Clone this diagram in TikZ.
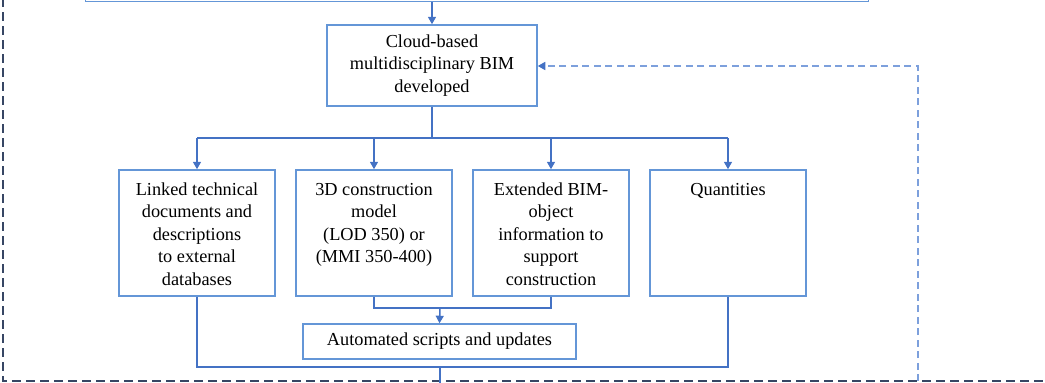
\documentclass[tikz,border=0pt]{standalone}
\usepackage{fontspec}
\setmainfont{Liberation Serif}
\usetikzlibrary{arrows.meta}
\definecolor{boxc}{RGB}{100,150,215}
\definecolor{connc}{RGB}{68,114,196}
\definecolor{fbc}{RGB}{125,160,220}
\definecolor{outerc}{RGB}{55,70,100}
\tikzset{
  box/.style={draw=boxc, line width=1.5pt, fill=white, inner sep=0pt, font=\fontsize{18.3}{22.5}\selectfont},
  conn/.style={draw=connc, line width=1.5pt},
  arr/.style={conn, -{Triangle[width=8pt,length=7.5pt]}},
  fbline/.style={draw=fbc, line width=1.6pt, dash pattern=on 7pt off 4.5pt, -{Triangle[width=8pt,length=7.5pt,fill=connc,color=connc]}},
  outerline/.style={draw=outerc, line width=2.8pt, dash pattern=on 9pt off 5pt},
}
\newcommand{\topbox}[1]{\parbox[c][126pt][t]{150pt}{\centering\rule{0pt}{25pt}#1}}
\begin{document}
\begin{tikzpicture}[x=1pt,y=-1pt]
\useasboundingbox (0,0) rectangle (1045,383);
% outer dashed frame
\draw[outerline] (3,-30) -- (3,381) -- (1070,381);
% top (cut-off) box
\node[box, minimum width=783pt, minimum height=60pt, anchor=south] (top) at (477,2) {};
% cloud box
\node[box, minimum width=210pt, minimum height=81pt, align=center] (cloud) at (432,65.5)
  {Cloud-based\\multidisciplinary BIM\\developed};
% four boxes
\node[box, minimum width=156pt] (b1) at (197,233) {\topbox{Linked technical\\documents and\\descriptions\\to external\\databases}};
\node[box, minimum width=156pt] (b2) at (374,233) {\topbox{3D construction\\model\\(LOD 350) or\\(MMI 350-400)}};
\node[box, minimum width=156pt] (b3) at (551,233) {\topbox{Extended BIM-\\object\\information to\\support\\construction}};
\node[box, minimum width=156pt] (b4) at (728,233) {\topbox{Quantities}};
% automated box
\node[box, minimum width=273pt, minimum height=35pt] (auto) at (439.5,341.5) {Automated scripts and updates};
% coordinates
\coordinate (split) at (432,138);
\coordinate (mid) at (440,308);
\coordinate (low) at (440,367);
\coordinate (exit) at (440,400);
\coordinate (fbbot) at (918,381);
\coordinate (fbtop) at (918,66);
% connectors
\draw[arr] (top.south -| cloud.north) -- (cloud.north);
\draw[conn] (cloud.south) -- (split);
\draw[conn] (b1.north |- split) -- (b4.north |- split);
\draw[arr] (b1.north |- split) -- (b1.north);
\draw[arr] (b2.north |- split) -- (b2.north);
\draw[arr] (b3.north |- split) -- (b3.north);
\draw[arr] (b4.north |- split) -- (b4.north);
\draw[conn] (b2.south) -- (b2.south |- mid) -- (b3.south |- mid) -- (b3.south);
\draw[arr] (mid) -- (auto.north);
\draw[conn] (b1.south) -- (b1.south |- low) -- (b4.south |- low) -- (b4.south);
\draw[conn] (low) -- (exit);
% feedback
\draw[fbline] (fbbot) -- (fbtop) -- (cloud.east |- fbtop);
\end{tikzpicture}
\end{document}
